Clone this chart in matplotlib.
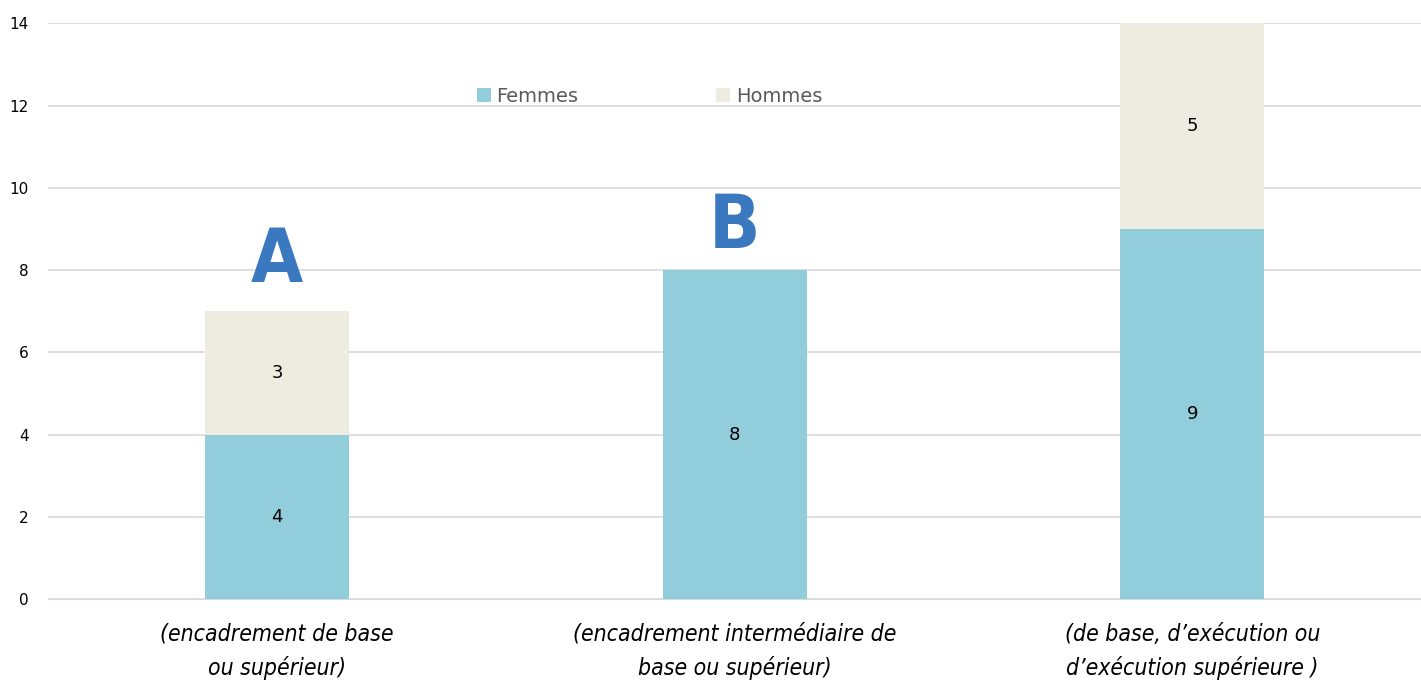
import matplotlib.pyplot as plt
import numpy as np

categories = ["(encadrement de base\nou supérieur)",
              "(encadrement intermédiaire de\nbase ou supérieur)",
              "(de base, d’exécution ou\nd’exécution supérieure )"]
femmes = [4, 8, 9]
hommes = [3, 0, 5]
letters = ["A", "B", ""]
letter_y = [7.7, 8.53, None]

fig = plt.figure(figsize=(14.21, 6.84), dpi=100)
ax = fig.add_axes([0.034, 0.124, 0.966, 0.842])

x = np.arange(len(categories))
w = 0.315
ax.bar(x, femmes, w, color="#92cddc", label="Femmes", zorder=2)
ax.bar(x, hommes, w, bottom=femmes, color="#eeece1", label="Hommes", zorder=2)

# data labels in the middle of each segment
for i in range(len(x)):
    if femmes[i]:
        ax.text(x[i], femmes[i] / 2, str(femmes[i]), ha="center", va="center", fontsize=13, color="black")
    if hommes[i]:
        ax.text(x[i], femmes[i] + hommes[i] / 2, str(hommes[i]), ha="center", va="center", fontsize=13, color="black")

# big letters over the bars
for i, l in enumerate(letters):
    if l:
        ax.text(x[i], letter_y[i], l, ha="center", va="baseline", fontsize=54,
                fontweight="bold", color="#3a78bf", fontstretch="condensed")

ax.set_xlim(-0.5, 2.5)
ax.set_ylim(0, 14)
ax.set_yticks(range(0, 15, 2))
ax.set_xticks(x)
ax.set_xticklabels(categories, fontsize=16.5, style="italic", fontstretch="condensed",
                   linespacing=1.55)
ax.tick_params(axis="both", length=0)
ax.tick_params(axis="y", labelsize=11, pad=14)
ax.tick_params(axis="x", pad=17)
ax.grid(axis="y", color="#d9d9d9", linewidth=1.2, zorder=0)
for s in ["top", "right", "left"]:
    ax.spines[s].set_visible(False)
ax.spines["bottom"].set_color("#d9d9d9")

leg = ax.legend(loc="upper center", bbox_to_anchor=(0.438, 0.92), ncol=2, frameon=False,
                fontsize=14, handlelength=0.7, handleheight=0.7, columnspacing=7.1, handletextpad=0.3)
for t in leg.get_texts():
    t.set_color("#595959")

plt.savefig("out.png", dpi=100)
